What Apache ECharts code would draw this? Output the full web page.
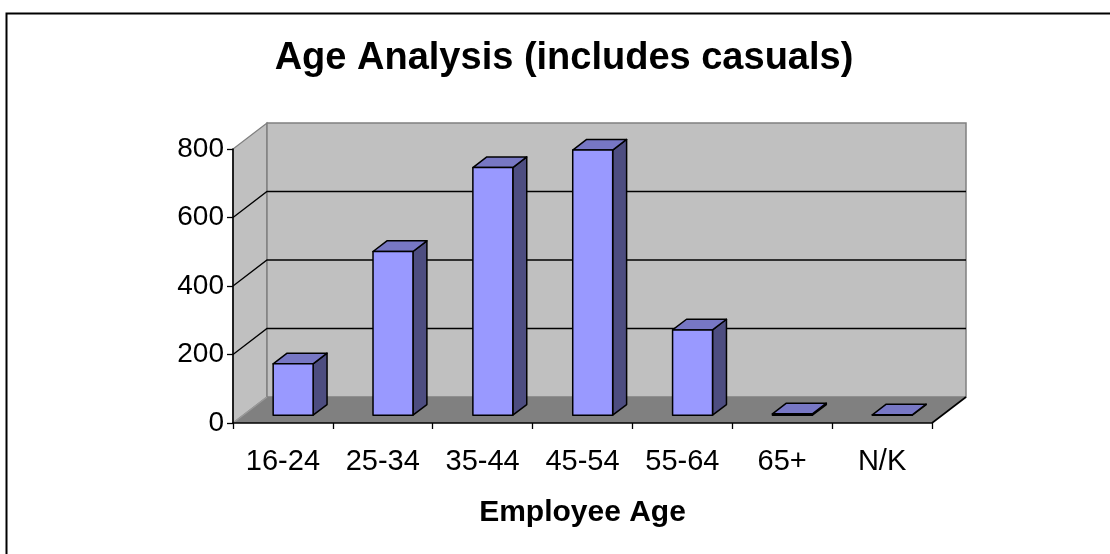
<!DOCTYPE html>
<html><head><meta charset="utf-8">
<script src="https://cdn.jsdelivr.net/npm/echarts@6/dist/echarts.min.js"></script>
<style>html,body{margin:0;padding:0;background:#fff}#c{width:1110px;height:554px}</style>
</head><body><div id="c"></div>
<script>
const categories = ['16-24', '25-34', '35-44', '45-54', '55-64', '65+', 'N/K'];
const values = [150, 478, 723, 774, 249, 4, 1];
const yTicks = [0, 200, 400, 600, 800];
const titleText = 'Age Analysis (includes casuals)';
const xAxisName = 'Employee Age';

const DEPTH = [34, -26];
const FRONT = 0.3, BACK = 0.71, BARW = 0.4;
const FONT = '"Liberation Sans", Arial, sans-serif';

const chart = echarts.init(document.getElementById('c'), null, {renderer: 'canvas'});

function bgRender(params, api) {
  const cs = params.coordSys;
  const x0 = cs.x, x1 = cs.x + cs.width;
  const yTop = api.coord([0, yTicks[yTicks.length - 1]])[1];
  const yBot = api.coord([0, yTicks[0]])[1];
  const dx = DEPTH[0], dy = DEPTH[1];
  const ch = [];
  ch.push({type: 'polygon', shape: {points: [[x0, yBot], [x0, yTop], [x0 + dx, yTop + dy], [x0 + dx, yBot + dy]]},
    style: {fill: '#c0c0c0', stroke: '#808080', lineWidth: 1.3}});
  ch.push({type: 'rect', shape: {x: x0 + dx, y: yTop + dy, width: x1 - x0, height: yBot - yTop},
    style: {fill: '#c0c0c0', stroke: '#808080', lineWidth: 1.5}});
  ch.push({type: 'polygon', shape: {points: [[x0, yBot], [x1, yBot], [x1 + dx, yBot + dy], [x0 + dx, yBot + dy]]},
    style: {fill: '#808080'}});
  ch.push({type: 'line', shape: {x1: x0, y1: yBot, x2: x0 + dx, y2: yBot + dy},
    style: {stroke: '#9a9a9a', lineWidth: 1.3}});
  yTicks.slice(1, -1).forEach(v => {
    const y = api.coord([0, v])[1];
    ch.push({type: 'polyline', shape: {points: [[x0, y], [x0 + dx, y + dy], [x1 + dx, y + dy]]},
      style: {stroke: '#000', lineWidth: 1.3, fill: null}});
  });
  ch.push({type: 'line', shape: {x1: x1, y1: yBot, x2: x1 + dx, y2: yBot + dy},
    style: {stroke: '#000', lineWidth: 1.6}});
  return {type: 'group', children: ch};
}

function barRender(params, api) {
  const i = api.value(0), v = api.value(1);
  const top = api.coord([i, v]), base = api.coord([i, 0]);
  const band = api.size([1, 0])[0];
  const w = band * BARW;
  const fx = DEPTH[0] * FRONT, fy = DEPTH[1] * FRONT;
  const bx = DEPTH[0] * BACK, by = DEPTH[1] * BACK;
  const L = top[0] - w / 2 + fx, R = L + w;
  const T = top[1] + fy, B = base[1] + fy;
  const ddx = bx - fx, ddy = by - fy;
  const st = {stroke: '#000', lineWidth: 1.5, lineJoin: 'round'};
  return {type: 'group', children: [
    {type: 'polygon', shape: {points: [[R, B], [R, T], [R + ddx, T + ddy], [R + ddx, B + ddy]]},
      style: Object.assign({fill: '#4d4d80'}, st)},
    {type: 'polygon', shape: {points: [[L, T], [R, T], [R + ddx, T + ddy], [L + ddx, T + ddy]]},
      style: Object.assign({fill: '#7777c4'}, st)},
    {type: 'rect', shape: {x: L, y: T, width: w, height: Math.max(B - T, 0.5)},
      style: Object.assign({fill: '#9999ff'}, st)}
  ]};
}

const option = {
  animation: false,
  backgroundColor: '#ffffff',
  textStyle: {fontFamily: FONT},
  grid: {left: 233, right: 178, top: 149, bottom: 131, containLabel: false},
  graphic: [
    {type: 'rect', shape: {x: 6.5, y: 13.5, width: 1200, height: 700},
      style: {fill: null, stroke: '#000', lineWidth: 2}, z: 100},
    {type: 'text', x: 564, y: 59, z: 100,
      style: {text: titleText, font: 'bold 38px ' + FONT, fill: '#000', align: 'center', verticalAlign: 'middle'}}
  ],
  xAxis: {
    type: 'category', data: categories, z: 10,
    boundaryGap: true,
    axisLine: {show: true, lineStyle: {color: '#000', width: 1.6}},
    axisTick: {show: true, length: 6, lineStyle: {color: '#000', width: 1.3}},
    axisLabel: {color: '#000', fontSize: 29, margin: 24, fontFamily: FONT},
    name: xAxisName, nameLocation: 'middle', nameGap: 75,
    nameTextStyle: {color: '#000', fontSize: 30, fontWeight: 'bold', fontFamily: FONT},
    splitLine: {show: false}
  },
  yAxis: {
    type: 'value', min: 0, max: 800, interval: 200, z: 10,
    axisLine: {show: true, lineStyle: {color: '#000', width: 1.6}},
    axisTick: {show: true, length: 6, lineStyle: {color: '#000', width: 1.3}},
    axisLabel: {color: '#000', fontSize: 28, margin: 9, fontFamily: FONT},
    splitLine: {show: false}
  },
  series: [
    {type: 'custom', name: 'walls', renderItem: bgRender, data: [[0, 0]], clip: false, z: 1,
      encode: {x: 0, y: 1}, silent: true},
    {type: 'custom', name: 'Employees', renderItem: barRender, clip: false, z: 2,
      data: values.map((v, i) => [i, v]), encode: {x: 0, y: 1}}
  ]
};
chart.setOption(option);
</script>
</body></html>
